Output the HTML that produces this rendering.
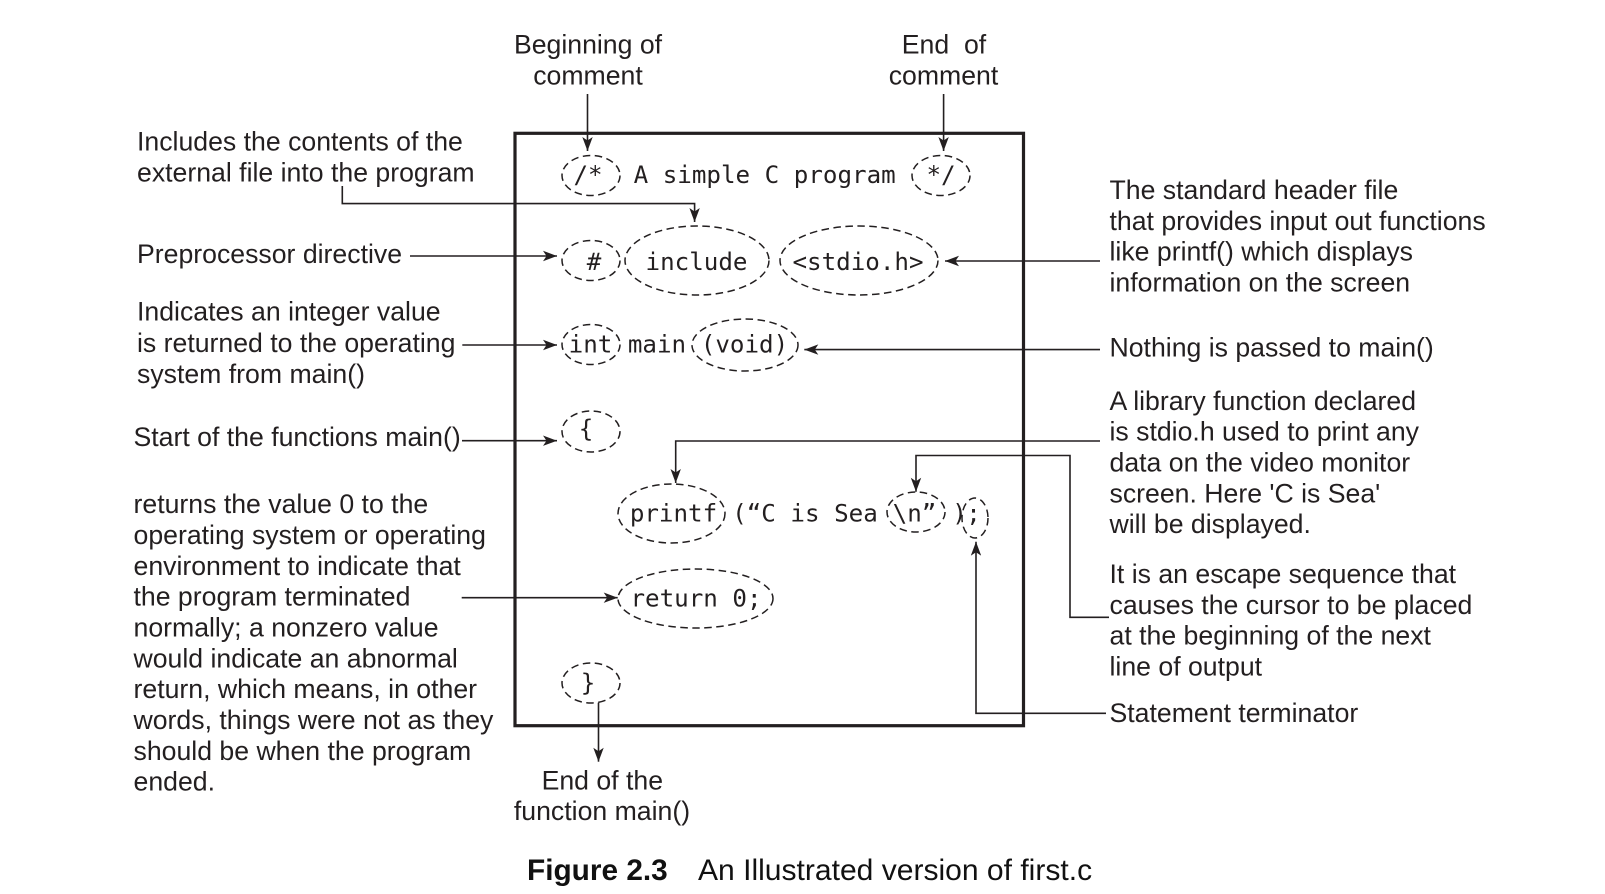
<!DOCTYPE html>
<html lang="en">
<head>
<meta charset="utf-8">
<title>Figure 2.3 An Illustrated version of first.c</title>
<style>
  html,body{margin:0;padding:0;background:#fff;width:1605px;height:894px;overflow:hidden}
  svg{display:block}
  .t{font-family:"Liberation Sans",sans-serif;font-size:26.65px;fill:#231f20}
  .m{font-family:"DejaVu Sans Mono","Liberation Mono",monospace;font-size:24.2px;fill:#231f20;text-anchor:middle}
  .e{fill:none;stroke:#231f20;stroke-width:1.5;stroke-dasharray:7.5 4.5}
  .l{fill:none;stroke:#231f20;stroke-width:1.6;marker-end:url(#head)}
</style>
</head>
<body>
<svg width="1605" height="894" viewBox="0 0 1605 894" xmlns="http://www.w3.org/2000/svg">
  <defs>
    <marker id="head" markerUnits="userSpaceOnUse" markerWidth="16" markerHeight="12" refX="14" refY="6" orient="auto">
      <path d="M0,0.8 L14,6 L0,11.2 L3.5,6 Z" fill="#231f20"/>
    </marker>
  </defs>
  <rect width="1605" height="894" fill="#fff"/>

  <rect x="515" y="133.3" width="508.5" height="592.4" fill="none" stroke="#231f20" stroke-width="3.2"/>

  <g>
    <ellipse class="e" cx="591" cy="175.5" rx="29" ry="20"/>
    <ellipse class="e" cx="941" cy="175.5" rx="29" ry="20"/>
    <ellipse class="e" cx="591" cy="260.5" rx="29" ry="20"/>
    <ellipse class="e" cx="697" cy="260.5" rx="72" ry="34.5"/>
    <ellipse class="e" cx="859" cy="260.5" rx="79" ry="34.5"/>
    <ellipse class="e" cx="591" cy="344.5" rx="29" ry="20"/>
    <ellipse class="e" cx="745" cy="345" rx="53" ry="26"/>
    <ellipse class="e" cx="591" cy="431.5" rx="29" ry="20.5"/>
    <ellipse class="e" cx="671.5" cy="513.5" rx="53.5" ry="29.5"/>
    <ellipse class="e" cx="916" cy="512" rx="29" ry="20"/>
    <ellipse class="e" cx="975" cy="518" rx="13" ry="20"/>
    <ellipse class="e" cx="695.5" cy="598.5" rx="77.5" ry="29.5"/>
    <ellipse class="e" cx="591" cy="683" rx="29" ry="20"/>
  </g>

  <g>
    <text class="m" x="588" y="183">/*</text>
    <text class="m" x="764.7" y="183">A simple C program</text>
    <text class="m" x="941" y="183">*/</text>
    <text class="m" x="594" y="270">#</text>
    <text class="m" x="696.5" y="270">include</text>
    <text class="m" x="858" y="270">&lt;stdio.h&gt;</text>
    <text class="m" x="590.5" y="352.7">int</text>
    <text class="m" x="657" y="352.7">main</text>
    <text class="m" x="744.5" y="352.7">(void)</text>
    <text class="m" x="586" y="437">{</text>
    <text class="m" x="673.5" y="521.7">printf</text>
    <text class="m" x="805" y="521.7">(“C is Sea</text>
    <text class="m" x="914.5" y="521.7">\n”</text>
    <text class="m" x="959.5" y="521.7">)</text>
    <text class="m" x="973.5" y="521.7">;</text>
    <text class="m" x="696" y="606.7">return 0;</text>
    <text class="m" x="588" y="691">}</text>
  </g>

  <g>
    <path class="l" d="M587.5,94 V151"/>
    <path class="l" d="M943.6,94 V151"/>
    <path class="l" d="M342.3,186 V203.6 H694.6 V222"/>
    <path class="l" d="M410,256 H557"/>
    <path class="l" d="M462.3,345 H557"/>
    <path class="l" d="M462,440.7 H557"/>
    <path class="l" d="M461.7,597.7 H617.7"/>
    <path class="l" d="M598.5,702.7 V761.7"/>
    <path class="l" d="M1100,261 H945"/>
    <path class="l" d="M1100,349.6 H804.3"/>
    <path class="l" d="M1100,441 H675.7 V483"/>
    <path class="l" d="M1109,617.3 H1070 V455.5 H916 V491.7"/>
    <path class="l" d="M1106,713.3 H976 V541.7"/>
  </g>

  <g>
    <text class="t" text-anchor="middle" x="588" y="53.3">Beginning of</text>
    <text class="t" text-anchor="middle" x="588" y="84.5">comment</text>
    <text class="t" text-anchor="middle" x="944" y="53.3" xml:space="preserve">End  of</text>
    <text class="t" text-anchor="middle" x="943.5" y="84.5">comment</text>
  </g>

  <g transform="translate(0,0.5)">
    <text class="t" x="137" y="150">Includes the contents of the</text>
    <text class="t" x="137" y="181">external file into the program</text>
    <text class="t" x="137" y="262.7">Preprocessor directive</text>
    <text class="t" x="137" y="320">Indicates an integer value</text>
    <text class="t" x="137" y="351.7">is returned to the operating</text>
    <text class="t" x="137" y="382.3">system from main()</text>
    <text class="t" x="133.5" y="445.5">Start of the functions main()</text>
    <text class="t" x="133.5" y="512.3">returns the value 0 to the</text>
    <text class="t" x="133.5" y="543.3">operating system or operating</text>
    <text class="t" x="133.5" y="574.3">environment to indicate that</text>
    <text class="t" x="133.5" y="605">the program terminated</text>
    <text class="t" x="133.5" y="636">normally; a nonzero value</text>
    <text class="t" x="133.5" y="667">would indicate an abnormal</text>
    <text class="t" x="133.5" y="697.7">return, which means, in other</text>
    <text class="t" x="133.5" y="728.3">words, things were not as they</text>
    <text class="t" x="133.5" y="759.3">should be when the program</text>
    <text class="t" x="133.5" y="790">ended.</text>
  </g>

  <g transform="translate(0,0.6)">
    <text class="t" x="1109.5" y="198.3">The standard header file</text>
    <text class="t" x="1109.5" y="229.3">that provides input out functions</text>
    <text class="t" x="1109.5" y="260">like printf() which displays</text>
    <text class="t" x="1109.5" y="291">information on the screen</text>
    <text class="t" x="1109.5" y="356">Nothing is passed to main()</text>
    <text class="t" x="1109.5" y="409.3">A library function declared</text>
    <text class="t" x="1109.5" y="440">is stdio.h used to print any</text>
    <text class="t" x="1109.5" y="471">data on the video monitor</text>
    <text class="t" x="1109.5" y="502">screen. Here 'C is Sea'</text>
    <text class="t" x="1109.5" y="532.3">will be displayed.</text>
    <text class="t" x="1109.5" y="582.3">It is an escape sequence that</text>
    <text class="t" x="1109.5" y="613.3">causes the cursor to be placed</text>
    <text class="t" x="1109.5" y="644">at the beginning of the next</text>
    <text class="t" x="1109.5" y="675">line of output</text>
    <text class="t" x="1109.5" y="721.2">Statement terminator</text>
  </g>

  <g>
    <text class="t" text-anchor="middle" x="602.3" y="789.3">End of the</text>
    <text class="t" text-anchor="middle" x="602" y="820">function main()</text>
  </g>

  <g>
    <text x="527" y="880" font-family="'Liberation Sans',sans-serif" font-size="29.8" font-weight="700" fill="#111">Figure 2.3</text>
    <text x="698" y="880" font-family="'Liberation Sans',sans-serif" font-size="30.05" fill="#111">An Illustrated version of first.c</text>
  </g>
</svg>
</body>
</html>
